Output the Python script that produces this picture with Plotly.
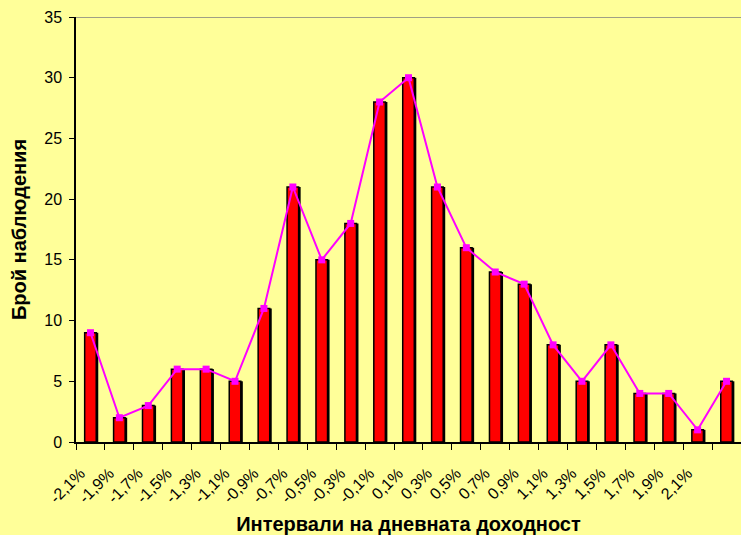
import plotly.graph_objects as go

labels = ["-2,1%", "-1,9%", "-1,7%", "-1,5%", "-1,3%", "-1,1%", "-0,9%", "-0,7%",
          "-0,5%", "-0,3%", "-0,1%", "0,1%", "0,3%", "0,5%", "0,7%", "0,9%",
          "1,1%", "1,3%", "1,5%", "1,7%", "1,9%", "2,1%"]
counts = [9, 2, 3, 6, 6, 5, 11, 21, 15, 18, 28, 30, 21, 16, 14, 13, 8, 5, 8, 4, 4, 1, 5]
x = list(range(len(counts)))

fig = go.Figure()
# shadow
fig.add_trace(go.Bar(x=x, y=counts, width=0.4, offset=-0.2 + 0.07,
                     marker=dict(color="black", line=dict(width=0)),
                     showlegend=False, hoverinfo="skip"))
fig.add_trace(go.Bar(x=x, y=counts, width=0.4, offset=-0.2,
                     marker=dict(color="#FF0000", line=dict(color="black", width=1.5)),
                     showlegend=False))
fig.add_trace(go.Scatter(x=x, y=counts, mode="lines+markers",
                         line=dict(color="#FF00FF", width=2),
                         marker=dict(symbol="square", size=7, color="#FF00FF"),
                         showlegend=False))

fig.add_shape(type="line", xref="paper", yref="y", x0=0, x1=1, y0=35, y1=35,
              line=dict(color="#808080", width=1.5))

fig.update_layout(
    width=741, height=535,
    margin=dict(l=76, r=0, t=17, b=93),
    paper_bgcolor="#FFFF99", plot_bgcolor="#FFFF99",
    barmode="overlay",
    font=dict(family="Liberation Sans, Arial, sans-serif", color="black", size=14),
    xaxis=dict(range=[-0.5, len(counts) - 0.5],
               tickvals=list(range(len(labels))), ticktext=labels,
               tickangle=-45, ticks="", showgrid=False, zeroline=False,
               showline=True, linecolor="black", linewidth=1.5,
               tickfont=dict(size=16), ticklabelstandoff=14, ticklabelshift=-10,
               automargin=False,
               minor=dict(tick0=-0.5, dtick=1, ticks="outside", ticklen=6,
                          tickcolor="black", tickwidth=1, showgrid=False),
               title=dict(text="<b>Интервали на дневната доходност</b>",
                          font=dict(size=20), standoff=22)),
    yaxis=dict(range=[0, 35], dtick=5, ticks="outside", ticklen=5,
               tickcolor="black", showgrid=False, zeroline=False,
               showline=True, linecolor="black", linewidth=1.5,
               tickfont=dict(size=16), ticklabelstandoff=4, automargin=False,
               title=dict(text="<b>Брой наблюдения</b>", font=dict(size=20),
                          standoff=12)),
)

fig.write_html("out.html", config={"displayModeBar": False},
               post_script="document.body.style.margin='0';")
